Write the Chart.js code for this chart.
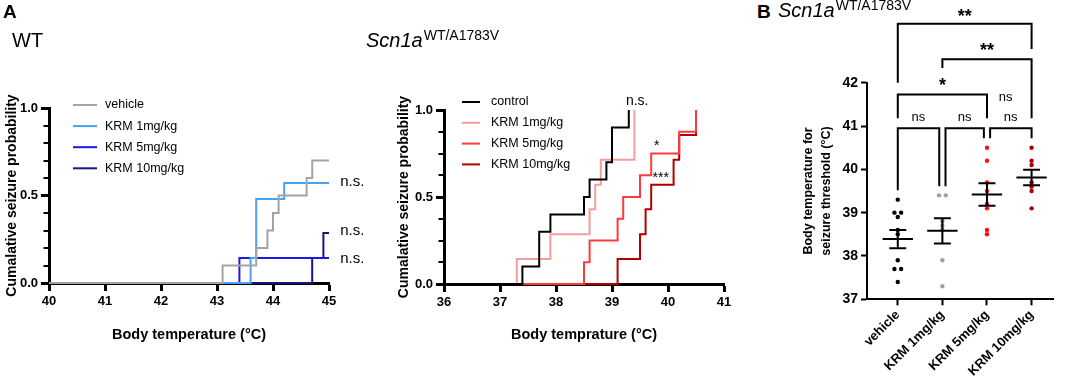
<!DOCTYPE html>
<html>
<head>
<meta charset="utf-8">
<script src="https://cdn.jsdelivr.net/npm/chart.js@4.4.1/dist/chart.umd.min.js"></script>
<style>
  body { margin: 0; width: 1065px; height: 376px; background: #fff; position: relative; overflow: hidden; font-family: 'Liberation Sans', Arial, sans-serif; }
  canvas { position: absolute; top: 0; }
  .t { position: absolute; line-height: 1; white-space: nowrap; color: #000; z-index: 2; }
  .sup { font-style: normal; font-size: 14px; position: relative; top: -7px; margin-left: 1px; }
</style>
</head>
<body>
<div class="t" style="left:3px;top:2px;font-weight:bold;font-size:19px">A</div>
<div class="t" style="left:12px;top:30px;font-size:20px">WT</div>
<div class="t" style="left:366px;top:30px;font-size:20px;font-style:italic">Scn1a<span class="sup">WT/A1783V</span></div>
<div class="t" style="left:757px;top:2px;font-weight:bold;font-size:19px">B</div>
<div class="t" style="left:778px;top:0px;font-size:20px;font-style:italic">Scn1a<span class="sup">WT/A1783V</span></div>

<canvas id="wt" width="420" height="376" style="left:0px"></canvas>
<canvas id="ko" width="350" height="376" style="left:392px"></canvas>
<canvas id="thr" width="269" height="376" style="left:796px"></canvas>

<script>
// ---------- data ----------
// WT : cumulative seizure probability vs body temperature
const wtVehicleT = [40, 43.1, 43.7, 43.9, 44.0, 44.1, 44.6, 44.7, 45];
const wtVehicleP = [0, 0.1, 0.2, 0.3, 0.4, 0.5, 0.6, 0.7, 0.7];
const wtKrm1T = [40, 43.6, 43.7, 44.2, 45];
const wtKrm1P = [0, 0.143, 0.48, 0.571, 0.571];
const wtKrm5T = [40, 43.4, 45];
const wtKrm5P = [0, 0.143, 0.143];
const wtKrm10T = [40, 44.7, 44.9, 45];
const wtKrm10P = [0, 0.143, 0.286, 0.286];
const wtLabels = ['vehicle', 'KRM 1mg/kg', 'KRM 5mg/kg', 'KRM 10mg/kg'];

// Scn1a WT/A1783V
const koControlT = [36, 37.4, 37.7, 37.9, 38.5, 38.6, 38.9, 39.0, 39.3];
const koControlP = [0, 0.1, 0.3, 0.4, 0.5, 0.6, 0.7, 0.9, 1.0];
const koKrm1T = [36, 37.3, 37.9, 38.6, 38.7, 38.8, 39.4];
const koKrm1P = [0, 0.143, 0.286, 0.429, 0.571, 0.714, 1.0];
const koKrm5T = [36, 38.5, 38.6, 39.1, 39.2, 39.5, 39.7, 40.2, 40.5];
const koKrm5P = [0, 0.125, 0.25, 0.375, 0.5, 0.625, 0.75, 0.875, 1.0];
const koKrm10T = [36, 39.1, 39.5, 39.6, 39.7, 40.1, 40.2, 40.5];
const koKrm10P = [0, 0.143, 0.286, 0.429, 0.571, 0.714, 0.857, 1.0];
const koLabels = ['control', 'KRM 1mg/kg', 'KRM 5mg/kg', 'KRM 10mg/kg'];

// B : seizure threshold per animal
const groups = ['vehicle', 'KRM 1mg/kg', 'KRM 5mg/kg', 'KRM 10mg/kg'];
const thrVehicle = [39.3, 39.0, 39.0, 38.9, 38.6, 38.5, 37.9, 37.7, 37.7, 37.4];
const thrKrm1 = [39.4, 39.4, 38.8, 38.7, 38.6, 37.9, 37.3];
const thrKrm5 = [40.5, 40.2, 39.7, 39.5, 39.2, 39.1, 38.6, 38.5];
const thrKrm10 = [40.5, 40.2, 40.1, 39.7, 39.6, 39.5, 39.1];
const thrMean = [38.39, 38.58, 39.42, 39.81];
const thrSem = [0.21, 0.29, 0.26, 0.18];

// annotations [text, x, y] in data units
const wtNotes = [['n.s.', 45.2, 0.58], ['n.s.', 45.2, 0.30], ['n.s.', 45.2, 0.14]];
const koNotes = [['n.s.', 39.45, 1.05], ['*', 39.8, 0.79], ['***', 39.87, 0.61]];
// brackets [from, to, bar level, left leg end, right leg end]
const bBrackets = [
  [0, 3, 43.36, 42.0, 42.78],
  [1, 3, 42.54, 42.34, 41.18],
  [0, 2, 41.73, 41.18, 41.18],
  [0, 0.93, 40.95, 39.52, 39.61],
  [1.07, 1.93, 40.95, 39.61, 40.72],
  [2.07, 3, 40.95, 40.72, 40.72]
];
const bMarks = [['**', 1.5, 43.61], ['**', 2.0, 42.82], ['*', 1.0, 42.02], ['ns', 2.42, 41.65],
                ['ns', 0.46, 41.2], ['ns', 1.5, 41.2], ['ns', 2.53, 41.2]];

// ---------- styling ----------
const FONT = "'Liberation Sans', Arial, sans-serif";
Chart.defaults.font.family = FONT;
Chart.defaults.color = '#000';
Chart.defaults.animation = false;

const pairs = (xs, ys) => xs.map((x, i) => ({ x: x, y: ys[i] }));

function stepSet(label, xs, ys, color) {
  return { label: label, data: pairs(xs, ys), borderColor: color, backgroundColor: color,
           borderWidth: 2, pointRadius: 0, stepped: 'before', fill: false, clip: false };
}

function axis(lineW, tickLen) {
  return {
    border: { display: true, color: '#000', width: lineW },
    grid: { display: true, drawOnChartArea: false, drawTicks: true, tickLength: tickLen, tickWidth: lineW, tickColor: '#000' }
  };
}

// legend, notes and minor ticks for the survival plots
const kmExtras = {
  id: 'kmExtras',
  afterDraw(chart, args, o) {
    const ctx = chart.ctx, xs = chart.scales.x, ys = chart.scales.y;
    ctx.save();
    // minor ticks
    ctx.strokeStyle = '#000';
    ctx.lineWidth = 2;
    const n = Math.round((ys.max - ys.min) / o.minor);
    for (let i = 0; i <= n; i++) {
      const py = Math.round(ys.getPixelForValue(ys.min + i * o.minor));
      ctx.beginPath();
      ctx.moveTo(chart.chartArea.left - 1.5 - o.minorLen, py);
      ctx.lineTo(chart.chartArea.left, py);
      ctx.stroke();
    }
    // legend
    chart.data.datasets.forEach((ds, i) => {
      const y = o.legTop + i * o.legGap;
      ctx.strokeStyle = ds.borderColor;
      ctx.lineWidth = 2;
      ctx.beginPath();
      ctx.moveTo(o.legX0, y);
      ctx.lineTo(o.legX1, y);
      ctx.stroke();
      ctx.fillStyle = '#000';
      ctx.font = '12.5px ' + FONT;
      ctx.textAlign = 'left';
      ctx.textBaseline = 'middle';
      ctx.fillText(ds.label, o.legText, y);
    });
    // significance notes
    ctx.font = o.noteFont;
    ctx.textAlign = o.noteAlign;
    o.notes.forEach(nt => {
      ctx.fillText(nt[0], xs.getPixelForValue(nt[1]), ys.getPixelForValue(nt[2]));
    });
    ctx.restore();
  }
};

function kmOptions(xmin, xmax, yw, xh, pad, title, extras) {
  const x = Object.assign(axis(3, 8), {
    type: 'linear', min: xmin, max: xmax,
    ticks: { stepSize: 1, font: { weight: 'bold', size: 13 }, color: '#000', padding: 3 },
    title: { display: true, text: title, font: { weight: 'bold', size: 14.5 }, color: '#000' },
    afterFit: s => { s.height = xh; }
  });
  const y = Object.assign(axis(3, 8), {
    min: 0, max: 1,
    ticks: { stepSize: 0.5, callback: v => v.toFixed(1), font: { weight: 'bold', size: 13 }, color: '#000', padding: 3 },
    title: { display: true, text: 'Cumalative seizure probability', font: { weight: 'bold', size: 14 }, color: '#000' },
    afterFit: s => { s.width = yw; }
  });
  return {
    responsive: false, events: [],
    layout: { padding: pad },
    plugins: { legend: { display: false }, tooltip: { enabled: false }, kmExtras: extras },
    scales: { x: x, y: y }
  };
}

new Chart(document.getElementById('wt'), {
  type: 'line',
  data: { datasets: [
    stepSet(wtLabels[0], wtVehicleT, wtVehicleP, '#a3a3a3'),
    stepSet(wtLabels[1], wtKrm1T, wtKrm1P, '#47a3f2'),
    stepSet(wtLabels[2], wtKrm5T, wtKrm5P, '#1818ee'),
    stepSet(wtLabels[3], wtKrm10T, wtKrm10P, '#16167c')
  ] },
  options: kmOptions(40, 45, 49, 64.7, { top: 108, right: 91, bottom: 28.3, left: 0 },
    'Body temperature (\u00B0C)',
    { minor: 0.1, minorLen: 4, legTop: 105, legGap: 21.1, legX0: 73, legX1: 97, legText: 105,
      notes: wtNotes, noteFont: '15px ' + FONT, noteAlign: 'left' }),
  plugins: [kmExtras]
});

new Chart(document.getElementById('ko'), {
  type: 'line',
  data: { datasets: [
    stepSet(koLabels[0], koControlT, koControlP, '#000000'),
    stepSet(koLabels[1], koKrm1T, koKrm1P, '#f79c9c'),
    stepSet(koLabels[2], koKrm5T, koKrm5P, '#ff3a3a'),
    stepSet(koLabels[3], koKrm10T, koKrm10P, '#b00000')
  ] },
  options: kmOptions(36, 41, 52, 63.7, { top: 110, right: 18, bottom: 28.3, left: 0 },
    'Body temprature (\u00B0C)',
    { minor: 0.125, minorLen: 4, legTop: 102, legGap: 20.8, legX0: 70, legX1: 88, legText: 99,
      notes: koNotes, noteFont: '14px ' + FONT, noteAlign: 'center' }),
  plugins: [kmExtras]
});

// ---------- B ----------
// spread identical values sideways, as the scatter plot does
function spread(vals, idx) {
  return vals.map((v, i) => {
    const n = vals.filter(w => w === v).length;
    const k = vals.slice(0, i).filter(w => w === v).length;
    return { x: idx + (k - (n - 1) / 2) * 0.15, y: v };
  });
}

const thrColors = ['#000000', '#a0a0a0', '#ff1010', '#a80000'];

const meanSem = {
  id: 'meanSem',
  afterDatasetsDraw(chart) {
    const ctx = chart.ctx, xs = chart.scales.x, ys = chart.scales.y;
    ctx.save();
    ctx.strokeStyle = '#000';
    ctx.lineWidth = 2;
    thrMean.forEach((m, i) => {
      const yM = ys.getPixelForValue(m), yH = ys.getPixelForValue(m + thrSem[i]), yL = ys.getPixelForValue(m - thrSem[i]);
      ctx.beginPath();
      ctx.moveTo(xs.getPixelForValue(i - 0.34), yM); ctx.lineTo(xs.getPixelForValue(i + 0.34), yM);
      ctx.moveTo(xs.getPixelForValue(i), yH); ctx.lineTo(xs.getPixelForValue(i), yL);
      ctx.moveTo(xs.getPixelForValue(i - 0.19), yH); ctx.lineTo(xs.getPixelForValue(i + 0.19), yH);
      ctx.moveTo(xs.getPixelForValue(i - 0.19), yL); ctx.lineTo(xs.getPixelForValue(i + 0.19), yL);
      ctx.stroke();
    });
    ctx.restore();
  },
  afterDraw(chart) {
    const ctx = chart.ctx, xs = chart.scales.x, ys = chart.scales.y;
    ctx.save();
    ctx.strokeStyle = '#000';
    ctx.lineWidth = 2;
    bBrackets.forEach(b => {
      const x1 = xs.getPixelForValue(b[0]), x2 = xs.getPixelForValue(b[1]), yb = ys.getPixelForValue(b[2]);
      ctx.beginPath();
      ctx.moveTo(x1, ys.getPixelForValue(b[3]));
      ctx.lineTo(x1, yb);
      ctx.lineTo(x2, yb);
      ctx.lineTo(x2, ys.getPixelForValue(b[4]));
      ctx.stroke();
    });
    ctx.fillStyle = '#000';
    ctx.textAlign = 'center';
    ctx.textBaseline = 'middle';
    bMarks.forEach(m => {
      const star = m[0].indexOf('*') >= 0;
      ctx.font = star ? 'bold 18px ' + FONT : '13px ' + FONT;
      ctx.fillText(m[0], xs.getPixelForValue(m[1]), ys.getPixelForValue(m[2]) + (star ? 4 : 0));
    });
    ctx.restore();
  }
};

const thrX = Object.assign(axis(2, 6), {
  type: 'linear', min: -0.69, max: 3.48,
  afterBuildTicks: s => { s.ticks = groups.map((g, i) => ({ value: i })); },
  ticks: { autoSkip: false, minRotation: 45, maxRotation: 45, padding: 2,
           callback: v => groups[v], font: { weight: 'bold', size: 13 }, color: '#000' },
  afterFit: s => { s.height = 76.7; }
});
const thrY = Object.assign(axis(2, 6), {
  min: 37, max: 42,
  ticks: { stepSize: 1, font: { weight: 'bold', size: 14 }, color: '#000', padding: 3 },
  title: { display: true, text: ['Body temperature for', 'seizure threshold (\u00B0C)'],
           font: { weight: 'bold', size: 12.5, lineHeight: 1.4 }, color: '#000' },
  afterFit: s => { s.width = 71; }
});

new Chart(document.getElementById('thr'), {
  type: 'scatter',
  data: { datasets: [thrVehicle, thrKrm1, thrKrm5, thrKrm10].map((vals, i) => ({
    label: groups[i], data: spread(vals, i), backgroundColor: thrColors[i],
    borderWidth: 0, pointRadius: 2.2, clip: false
  })) },
  options: {
    responsive: false, events: [],
    layout: { padding: { top: 82.7, right: 12, bottom: 0, left: 0 } },
    plugins: { legend: { display: false }, tooltip: { enabled: false } },
    scales: { x: thrX, y: thrY }
  },
  plugins: [meanSem]
});
</script>
</body>
</html>
